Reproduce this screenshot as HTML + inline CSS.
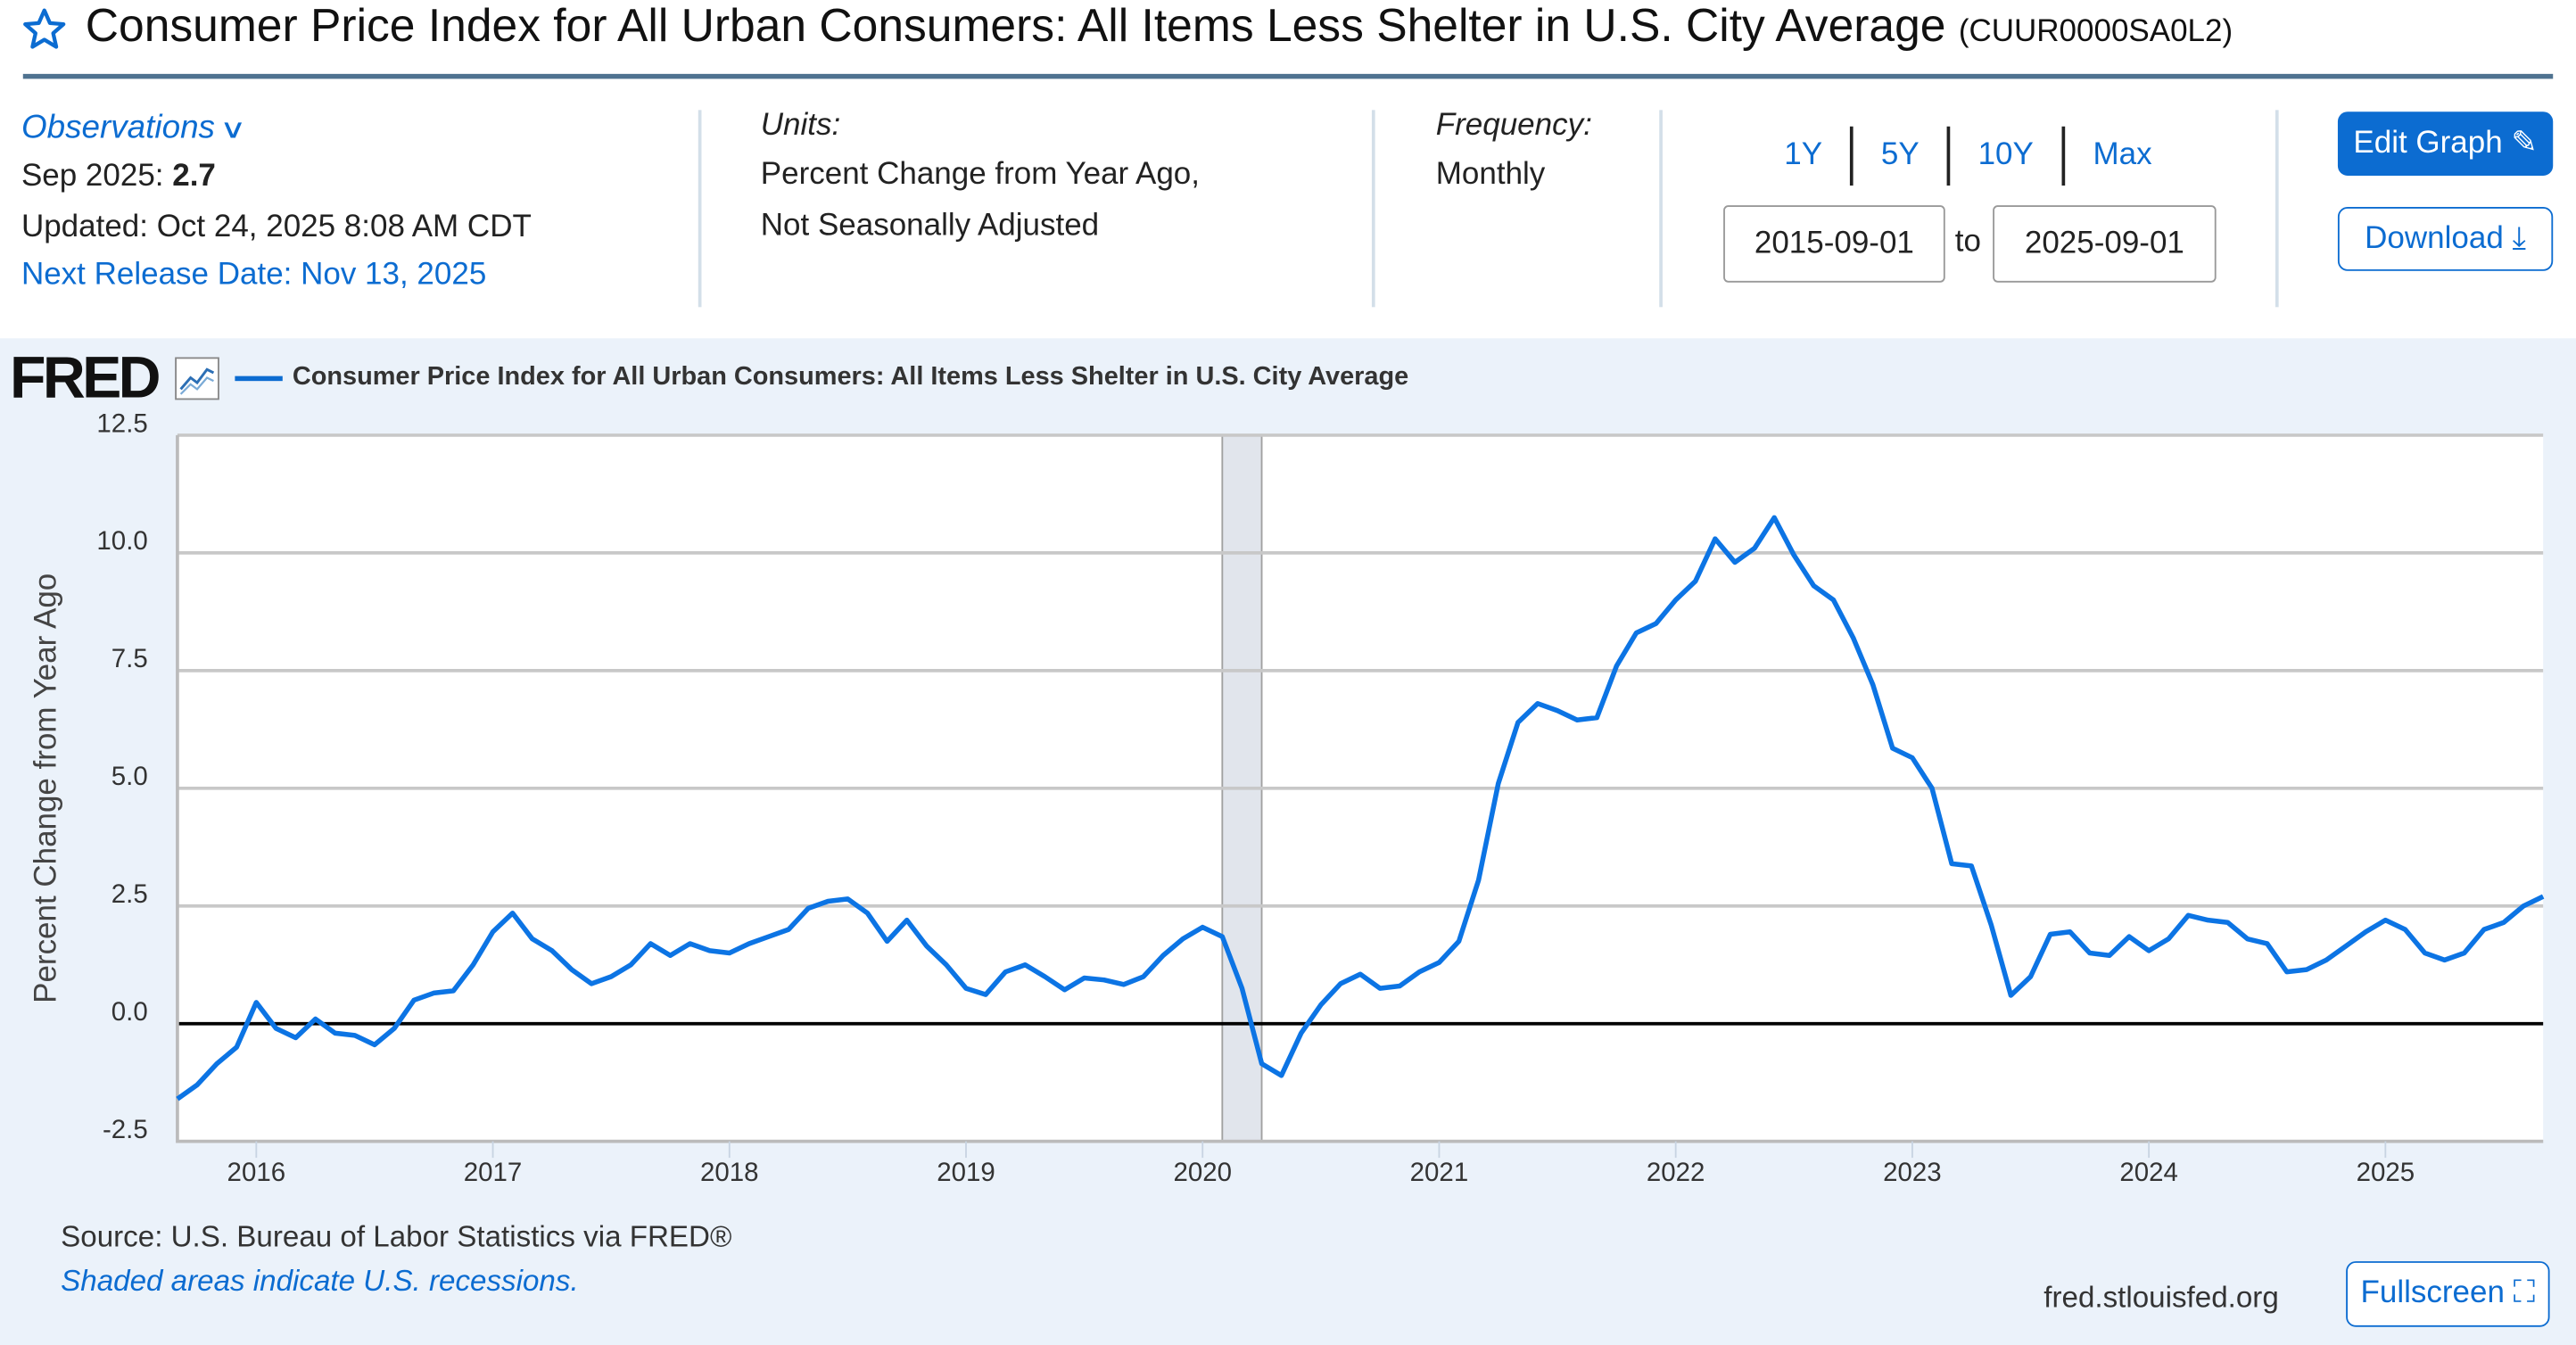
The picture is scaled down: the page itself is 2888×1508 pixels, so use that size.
<!DOCTYPE html>
<html><head><meta charset="utf-8"><style>
html,body{margin:0;padding:0;width:2888px;height:1508px;overflow:hidden;background:#fff}
#wrap{position:absolute;left:0;top:0;width:1568px;height:819px;transform-origin:0 0;transform:scale(1.84184,1.84127);font-family:"Liberation Sans",sans-serif;color:#222}
.abs{position:absolute;white-space:nowrap}
.blue{color:#0c6cd1}
.vdiv{position:absolute;width:2px;background:#d3dfe9;top:67px;height:120px}
.t19{font-size:19px}
</style></head><body>
<div id="wrap">
  <svg class="abs" style="left:13px;top:4px" width="28" height="28" viewBox="0 0 24 24"><polygon points="12,2 14.9,8.6 22,9.2 16.6,13.9 18.2,21 12,17.3 5.8,21 7.4,13.9 2,9.2 9.1,8.6" fill="none" stroke="#0c6cd1" stroke-width="2" stroke-linejoin="round"/></svg>
  <div class="abs" style="left:52px;top:0px;font-size:28px;color:#111">Consumer Price Index for All Urban Consumers: All Items Less Shelter in U.S. City Average <span style="font-size:19px">(CUUR0000SA0L2)</span></div>
  <div class="abs" style="left:14px;top:45px;width:1540px;height:3px;background:#4f7290"></div>

  <div class="abs blue" style="left:13px;top:67px;font-size:20px;font-style:italic">Observations <span style="font-style:normal;display:inline-block;transform:scaleX(1.4);font-size:16px">&#x2228;</span></div>
  <div class="abs t19" style="left:13px;top:97px">Sep 2025: <b>2.7</b></div>
  <div class="abs t19" style="left:13px;top:128px">Updated: Oct 24, 2025 8:08 AM CDT</div>
  <div class="abs t19 blue" style="left:13px;top:157px">Next Release Date: Nov 13, 2025</div>

  <div class="vdiv" style="left:425px"></div>
  <div class="abs t19" style="left:463px;top:66px;font-style:italic">Units:</div>
  <div class="abs t19" style="left:463px;top:96px">Percent Change from Year Ago,</div>
  <div class="abs t19" style="left:463px;top:127px">Not Seasonally Adjusted</div>

  <div class="vdiv" style="left:835px"></div>
  <div class="abs t19" style="left:874px;top:66px;font-style:italic">Frequency:</div>
  <div class="abs t19" style="left:874px;top:96px">Monthly</div>

  <div class="vdiv" style="left:1010px"></div>
  <div class="abs t19 blue" style="left:1086px;top:84px">1Y</div>
  <div class="abs" style="left:1126px;top:77px;width:2px;height:36px;background:#222"></div>
  <div class="abs t19 blue" style="left:1145px;top:84px">5Y</div>
  <div class="abs" style="left:1185px;top:77px;width:2px;height:36px;background:#222"></div>
  <div class="abs t19 blue" style="left:1204px;top:84px">10Y</div>
  <div class="abs" style="left:1255px;top:77px;width:2px;height:36px;background:#222"></div>
  <div class="abs t19 blue" style="left:1274px;top:84px">Max</div>
  <div class="abs t19" style="left:1049px;top:125px;width:133px;height:45px;border:1px solid #999;border-radius:3px;line-height:45px;text-align:center">2015-09-01</div>
  <div class="abs t19" style="left:1190px;top:137px">to</div>
  <div class="abs t19" style="left:1213px;top:125px;width:134px;height:45px;border:1px solid #999;border-radius:3px;line-height:45px;text-align:center">2025-09-01</div>

  <div class="vdiv" style="left:1385px"></div>
  <div class="abs t19" style="left:1423px;top:68px;width:131px;height:39px;background:#0c6cd1;color:#fff;border-radius:6px;line-height:39px;text-align:center">Edit Graph &#x270E;</div>
  <div class="abs t19 blue" style="left:1423px;top:126px;width:129px;height:37px;border:1px solid #0c6cd1;border-radius:6px;line-height:37px;text-align:center">Download &#x2913;</div>

  <div class="abs" style="left:0;top:206px;width:1568px;height:613px;background:#ebf2fa"></div>
  <div class="abs" style="left:6px;top:209px;font-size:36px;font-weight:bold;letter-spacing:-2px;color:#111">FRED</div>
  <svg class="abs" style="left:106px;top:217px" width="28" height="27"><rect x="1" y="1" width="26" height="25" fill="#fff" stroke="#888"/><polyline points="4,20 10,13 14,16 20,8 24,10" fill="none" stroke="#2c6fb5" stroke-width="1.6"/><polyline points="4,23 10,17 14,20 20,13 24,15" fill="none" stroke="#7aaad6" stroke-width="1.2"/></svg>
  <div class="abs" style="left:143px;top:229px;width:29px;height:3px;background:#0c6cd1"></div>
  <div class="abs" style="left:178px;top:221px;font-size:15.7px;font-weight:bold;color:#333">Consumer Price Index for All Urban Consumers: All Items Less Shelter in U.S. City Average</div>

  <svg id="chart" class="abs" style="left:0;top:0" width="1568" height="819"></svg>

  <div class="abs" style="left:37px;top:743px;font-size:18px;color:#333">Source: U.S. Bureau of Labor Statistics via FRED®</div>
  <div class="abs blue" style="left:37px;top:770px;font-size:18px;font-style:italic">Shaded areas indicate U.S. recessions.</div>
  <div class="abs" style="left:1244px;top:780px;font-size:18px;color:#333">fred.stlouisfed.org</div>
  <div class="abs t19 blue" style="left:1428px;top:768px;width:122px;height:38px;border:1px solid #0c6cd1;border-radius:6px;line-height:38px;text-align:center;background:#fff">Fullscreen &#x26F6;</div>
</div>
<script>
const startYear = 2015, startMonth = 9;
const values = [-1.6,-1.3,-0.85,-0.5,
0.45,-0.1,-0.3,0.1,-0.2,-0.25,-0.45,-0.1,0.5,0.65,0.7,1.25,
1.95,2.35,1.8,1.55,1.15,0.85,1.0,1.25,1.7,1.45,1.7,1.55,
1.5,1.7,1.85,2.0,2.45,2.6,2.65,2.35,1.75,2.2,1.65,1.25,
0.75,0.62,1.1,1.25,1.0,0.72,0.97,0.93,0.83,1.0,1.45,1.8,
2.05,1.85,0.75,-0.85,-1.1,-0.2,0.4,0.85,1.05,0.75,0.8,1.1,
1.3,1.75,3.05,5.1,6.4,6.8,6.65,6.45,6.5,7.6,8.3,8.5,
9.0,9.4,10.3,9.8,10.1,10.75,9.95,9.3,9.0,8.2,7.2,5.85,
5.65,5.0,3.4,3.35,2.1,0.6,1.0,1.9,1.95,1.5,1.45,1.85,
1.55,1.8,2.3,2.2,2.15,1.8,1.7,1.1,1.15,1.35,1.65,1.95,
2.2,2.0,1.5,1.35,1.5,2.0,2.15,2.5,2.7];
const yTicks = [-2.5,0,2.5,5,7.5,10,12.5];
const yTickLabels = ["-2.5","0.0","2.5","5.0","7.5","10.0","12.5"];
const xTickYears = [2016,2017,2018,2019,2020,2021,2022,2023,2024,2025];
const recessions = [[2020,2,2020,4]];

const NS="http://www.w3.org/2000/svg";
const svg=document.getElementById('chart');
const L=108,R=1548,T=265,B=695;
const yMin=-2.5,yMax=12.5;
function mIndex(y,m){return (y-startYear)*12+(m-startMonth);}
const nMonths=mIndex(2025,9);
function xs(i){return L+(R-L)*i/nMonths;}
function ys(v){return B-(B-T)*(v-yMin)/(yMax-yMin);}
function mk(tag,attrs){const e=document.createElementNS(NS,tag);for(const k in attrs)e.setAttribute(k,attrs[k]);svg.appendChild(e);return e;}

let bg=mk('rect',{x:L,y:T,width:R-L,height:B-T,fill:'#fff'});



recessions.forEach(r=>{
  const x1=xs(mIndex(r[0],r[1])), x2=xs(mIndex(r[2],r[3]));
  const e=mk('rect',{x:x1,y:T,width:x2-x1,height:B-T,fill:'#e1e5ec',stroke:'#a0a0a0','stroke-width':1});
  
  
});

yTicks.forEach((v,i)=>{
  const y=ys(v);
  if(v!==0){
    const g=mk('line',{x1:L,x2:R,y1:y,y2:y,stroke:'#c8c8c8','stroke-width':2});
    
    
  }
  const t=mk('text',{x:90,y:y-2,'text-anchor':'end','font-size':16,fill:'#333','font-family':'Liberation Sans, sans-serif'});
  t.textContent=yTickLabels[i];
  
  
});
const z=mk('line',{x1:L,x2:R,y1:ys(0),y2:ys(0),stroke:'#000','stroke-width':2});



const ax=mk('polyline',{points:`${L},${T} ${L},${B} ${R},${B}`,fill:'none',stroke:'#bbb','stroke-width':2});



xTickYears.forEach(yr=>{
  const x=xs(mIndex(yr,1));
  const tk=mk('line',{x1:x,x2:x,y1:B,y2:B+10,stroke:'#c8d4e2','stroke-width':1});
  
  
  const t=mk('text',{x:x,y:B+24,'text-anchor':'middle','font-size':16,fill:'#333','font-family':'Liberation Sans, sans-serif'});
  t.textContent=String(yr);
  
  
});

const yt=mk('text',{x:0,y:0,'text-anchor':'middle','font-size':19,fill:'#444','font-family':'Liberation Sans, sans-serif',transform:'translate(34,480) rotate(-90)'});
yt.textContent='Percent Change from Year Ago';



const pts=values.map((v,i)=>xs(i).toFixed(1)+','+ys(v).toFixed(1)).join(' ');
const line=mk('polyline',{points:pts,fill:'none',stroke:'#0c74e4','stroke-width':3,'stroke-linejoin':'round'});


</script>
</body></html>
